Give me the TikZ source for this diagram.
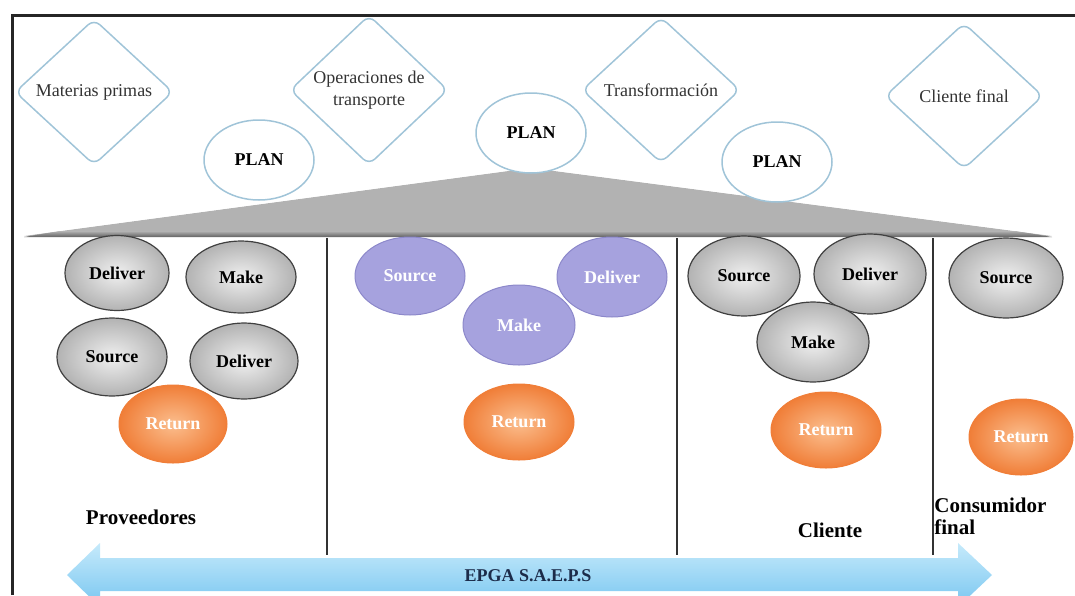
\documentclass[tikz,border=0pt]{standalone}
\usepackage{fontspec}
\setmainfont{Liberation Serif}
\usetikzlibrary{shapes.geometric}

\definecolor{lineblue}{RGB}{160,196,216}
\definecolor{lilac}{RGB}{166,162,222}
\definecolor{lilacdark}{RGB}{140,136,202}
\definecolor{orangein}{RGB}{251,190,142}
\definecolor{orangeout}{RGB}{240,126,56}
\definecolor{arrowtop}{RGB}{198,234,251}
\definecolor{arrowbot}{RGB}{120,198,240}
\definecolor{navy}{RGB}{28,44,74}

\begin{document}
\begin{tikzpicture}[x=1pt,y=-1pt,thick,
  stage/.style={diamond,draw=lineblue,line width=1.5pt,rounded corners=8pt,
    inner sep=0pt,minimum width=158pt,minimum height=146pt,text=black!80,
    font=\fontsize{18}{22}\selectfont,align=center},
  plan/.style={ellipse,draw=lineblue,line width=1.5pt,fill=white,inner sep=0pt,
    minimum width=110pt,minimum height=80pt,font=\fontsize{18}{22}\selectfont\bfseries},
  proc/.style={ellipse,inner sep=0pt,minimum width=110pt,minimum height=78pt,
    font=\fontsize{18}{22}\selectfont\bfseries},
  grayproc/.style={proc,draw=black!75,line width=1.2pt,inner color=black!6,outer color=black!30},
  lilacproc/.style={proc,draw=lilacdark,line width=1pt,fill=lilac,text=white},
  returnproc/.style={proc,draw=orangeout,line width=1pt,inner color=orangein,
    outer color=orangeout,text=white},
  party/.style={font=\fontsize{21}{22}\selectfont\bfseries,align=left,inner sep=0pt}
]
  \useasboundingbox (0,0) rectangle (1075,595);
  \clip (0,0) rectangle (1075,595);

  % frame
  \draw[black!85,line width=3pt] (12,595) -- (12,15) -- (1075,15);

  % stages of the chain
  \node[stage] (materias) at (94,92) {Materias primas};
  \node[stage] (transporte) at (369,90) {Operaciones de\\transporte};
  \node[stage] (transf) at (661,90) {Transformación};
  \node[stage] (clientefinal) at (964,96) {Cliente final};

  % roof
  \fill[black!30] (24,236) -- (531,168) -- (1052,236) -- cycle;
  \shade[top color=black!30,bottom color=black!62] (60,231) -- (1015,231) -- (1052,237) -- (24,237) -- cycle;
  \draw[white,line width=1pt] (24,235) -- (531,167) -- (1052,235);

  % plan
  \node[plan] (plan1) at (259,160) {PLAN};
  \node[plan] (plan2) at (531,133) {PLAN};
  \node[plan] (plan3) at (777,162) {PLAN};

  % dividers
  \draw[black!80,line width=2pt] (327,238) -- (327,555);
  \draw[black!80,line width=2pt] (677,238) -- (677,555);
  \draw[black!80,line width=2pt] (933,238) -- (933,555);

  % proveedores
  \node[grayproc,minimum width=104pt,minimum height=75pt] (deliver1) at (117,273) {Deliver};
  \node[grayproc,minimum height=72pt] (make1) at (241,277) {Make};
  \node[grayproc] (source1) at (112,357) {Source};
  \node[grayproc,minimum width=108pt,minimum height=76pt] (deliver2) at (244,361) {Deliver};
  \node[returnproc,minimum width=108pt] (return1) at (173,424) {Return};

  % epga
  \node[lilacproc] (source2) at (410,276) {Source};
  \node[lilacproc,minimum width=112pt,minimum height=80pt] (make2) at (519,325) {Make};
  \node[lilacproc,minimum height=80pt] (deliver3) at (612,277) {Deliver};
  \node[returnproc,minimum height=76pt] (return2) at (519,422) {Return};

  % cliente
  \node[grayproc,minimum width=112pt,minimum height=80pt] (source3) at (744,276) {Source};
  \node[grayproc,minimum width=112pt,minimum height=80pt] (deliver4) at (870,274) {Deliver};
  \node[grayproc,minimum width=112pt,minimum height=80pt] (make3) at (813,342) {Make};
  \node[returnproc,minimum height=76pt] (return3) at (826,430) {Return};

  % consumidor final
  \node[grayproc,minimum width=114pt,minimum height=80pt] (source4) at (1006,278) {Source};
  \node[returnproc,minimum width=104pt,minimum height=76pt] (return4) at (1021,437) {Return};

  % parties
  \node[party] (proveedores) at (141,517) {Proveedores};
  \node[party] (cliente) at (830,530) {Cliente};
  \node[party,anchor=west] (consumidor) at (934,516) {Consumidor\\final};

  % company arrow
  \shade[top color=arrowtop,bottom color=arrowbot] (67,575) -- (100,543) -- (100,558)
    -- (958,558) -- (958,543) -- (992,575) -- (958,607) -- (958,591)
    -- (100,591) -- (100,607) -- cycle;
  \node[font=\fontsize{18}{22}\selectfont\bfseries,text=navy] (epga) at (528,576) {EPGA S.A.E.P.S};
\end{tikzpicture}
\end{document}
